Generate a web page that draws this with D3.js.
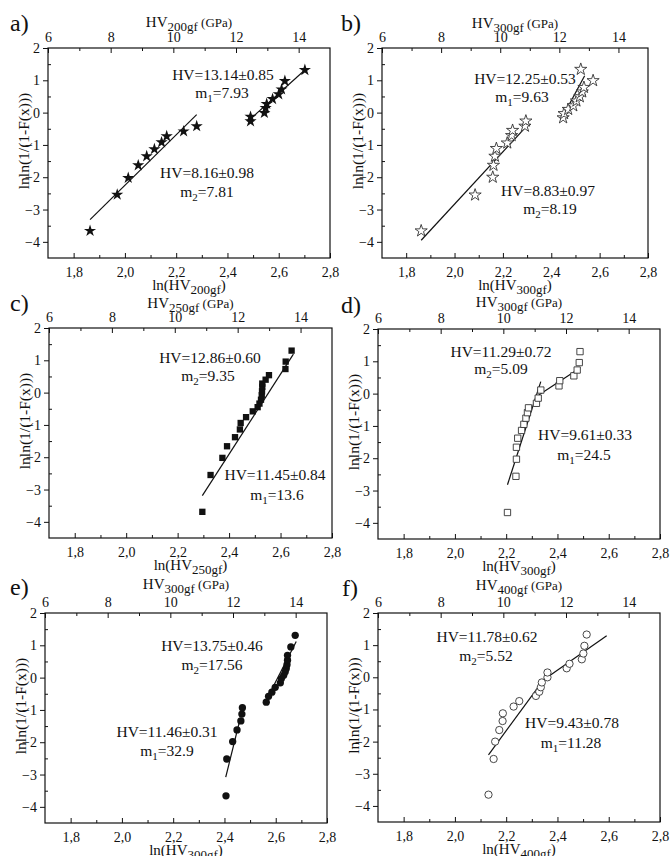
<!DOCTYPE html>
<html><head><meta charset="utf-8">
<script src="https://cdn.jsdelivr.net/npm/d3@7"></script>
<style>body{margin:0;background:#fff}</style>
</head><body>
<svg id="chart" width="670" height="856"></svg>
<script>
// ---------- shared axis data ----------
const xTicks = [1.8, 2.0, 2.2, 2.4, 2.6, 2.8];
const xTickLabels = ["1,8", "2,0", "2,2", "2,4", "2,6", "2,8"];
const xMinor = [1.9, 2.1, 2.3, 2.5, 2.7];
const yTicks = [-4, -3, -2, -1, 0, 1, 2];
const yMinor = [-3.5, -2.5, -1.5, -0.5, 0.5, 1.5];
const topTicks = [6, 8, 10, 12, 14];
const topMinor = [7, 9, 11, 13];
const yTitle = "lnln(1/(1-F(x)))";

// ---------- panel a (filled stars, 200gf) ----------
const a_x = [1.864,1.970,2.013,2.052,2.085,2.115,2.143,2.163,2.229,2.280, 2.490,2.490,2.544,2.549,2.553,2.576,2.600,2.611,2.624,2.702];
const a_y = [-3.66,-2.54,-2.02,-1.63,-1.35,-1.13,-0.92,-0.73,-0.58,-0.42, -0.27,-0.13,-0.01,0.14,0.27,0.42,0.57,0.72,0.98,1.32];
const a_fits = [[[1.864,-3.31],[2.280,-0.06]], [[2.488,-0.21],[2.702,1.32]]];
const a_notes = [["HV=13.14±0.85","1","7.93"], ["HV=8.16±0.98","2","7.81"]];

// ---------- panel b (open stars, 300gf) ----------
const b_x = [1.862,2.085,2.158,2.161,2.167,2.173,2.218,2.236,2.240,2.291,2.295, 2.449,2.453,2.470,2.491,2.504,2.518,2.528,2.535,2.522,2.573];
const b_y = [-3.66,-2.55,-2.00,-1.63,-1.35,-1.11,-0.94,-0.71,-0.55,-0.42,-0.26, -0.16,-0.03,0.10,0.21,0.36,0.49,0.64,0.78,1.34,0.99];
const b_fits = [[[1.862,-3.95],[2.298,-0.42]], [[2.449,-0.10],[2.538,1.14]]];
const b_notes = [["HV=12.25±0.53","1","9.63"], ["HV=8.83±0.97","2","8.19"]];

// ---------- panel c (filled squares, 250gf) ----------
const c_x = [2.296,2.328,2.374,2.392,2.423,2.442,2.445,2.466,2.492,2.511,2.518,2.524,2.527,2.528,2.529,2.529,2.542,2.555,2.619,2.620,2.643];
const c_y = [-3.69,-2.55,-2.02,-1.66,-1.38,-1.14,-0.94,-0.76,-0.58,-0.45,-0.34,-0.22,-0.08,0.04,0.18,0.28,0.40,0.54,0.73,0.96,1.30];
const c_fits = [[[2.296,-3.19],[2.650,1.19]]];
const c_notes = [["HV=12.86±0.60","2","9.35"], ["HV=11.45±0.84","1","13.6"]];

// ---------- panel d (open squares, 300gf) ----------
const d_x = [2.205,2.238,2.240,2.240,2.245,2.260,2.269,2.277,2.283,2.287,2.318,2.325,2.335,2.406,2.409,2.464,2.477,2.485,2.488];
const d_y = [-3.68,-2.56,-2.03,-1.66,-1.38,-1.14,-0.95,-0.76,-0.59,-0.44,-0.30,-0.14,0.11,0.24,0.40,0.55,0.73,0.96,1.30];
const d_fits = [[[2.205,-2.82],[2.335,0.37]], [[2.327,-0.04],[2.488,0.79]]];
const d_notes = [["HV=11.29±0.72","2","5.09"], ["HV=9.61±0.33","1","24.5"]];

// ---------- panel e (filled circles, 300gf) ----------
const e_x = [2.406,2.409,2.432,2.449,2.464,2.468,2.470, 2.563,2.572,2.585,2.598,2.618,2.622,2.631,2.637,2.641,2.644,2.646,2.646,2.659,2.676];
const e_y = [-3.66,-2.52,-1.98,-1.62,-1.34,-1.13,-0.93, -0.76,-0.58,-0.45,-0.30,-0.16,-0.03,0.07,0.18,0.28,0.40,0.54,0.69,0.95,1.31];
const e_fits = [[[2.405,-3.08],[2.462,-1.25]], [[2.560,-0.75],[2.680,1.12]]];
const e_notes = [["HV=13.75±0.46","2","17.56"], ["HV=11.46±0.31","1","32.9"]];

// ---------- panel f (open circles, 400gf) ----------
const f_x = [2.131,2.151,2.157,2.173,2.186,2.187,2.229,2.251,2.316,2.329,2.335,2.339,2.361,2.361,2.436,2.447,2.495,2.501,2.505,2.514];
const f_y = [-3.65,-2.54,-2.00,-1.64,-1.36,-1.12,-0.91,-0.74,-0.58,-0.45,-0.31,-0.16,0.00,0.15,0.28,0.42,0.56,0.74,0.98,1.33];
const f_fits = [[[2.131,-2.41],[2.355,0.02]], [[2.355,-0.03],[2.592,1.29]]];
const f_notes = [["HV=11.78±0.62","2","5.52"], ["HV=9.43±0.78","1","11.28"]];

// ---------- layout (positions/styles only) ----------
const panels = [
  {letter:"a)", load:"200gf", xs:a_x, ys:a_y, fits:a_fits, notes:a_notes, sym:"star", filled:true,
   frame:{x:48,y:48,w:282,h:210}, lp:[10,31], td:-21, np:[[175,32],[174,50],[159,130],[159,149]]},
  {letter:"b)", load:"300gf", xs:b_x, ys:b_y, fits:b_fits, notes:b_notes, sym:"star", filled:false,
   frame:{x:382,y:48,w:266,h:210}, lp:[341,31], td:-20, np:[[143,36],[140,54],[166,148],[168,166]]},
  {letter:"c)", load:"250gf", xs:c_x, ys:c_y, fits:c_fits, notes:c_notes, sym:"square", filled:true,
   frame:{x:49,y:328,w:283,h:210}, lp:[10,311], td:-20, np:[[161,35],[159,53],[226,152],[228,172]]},
  {letter:"d)", load:"300gf", xs:d_x, ys:d_y, fits:d_fits, notes:d_notes, sym:"square", filled:false,
   frame:{x:378,y:329,w:282,h:210}, lp:[341,313], td:-22, np:[[123,28],[123,45],[207,111],[206,131]]},
  {letter:"e)", load:"300gf", xs:e_x, ys:e_y, fits:e_fits, notes:e_notes, sym:"circle", filled:true,
   frame:{x:45,y:613,w:282,h:210}, lp:[10,595], td:-24, np:[[167,38],[167,57],[122,124],[122,143]]},
  {letter:"f)", load:"400gf", xs:f_x, ys:f_y, fits:f_fits, notes:f_notes, sym:"circle", filled:false,
   frame:{x:378,y:613,w:282,h:209}, lp:[342,596], td:-23, np:[[109,29],[108,48],[194,115],[193,135]]}
];

const FONT = "'Liberation Serif','Times New Roman',Times,serif";
const svg = d3.select("#chart").style("font-family", FONT);
svg.append("rect").attr("width",670).attr("height",856).attr("fill","#fff");

const symTypes = {star:d3.symbolStar, square:d3.symbolSquare, circle:d3.symbolCircle};
const symSizes = {star:46, square:40, circle:42};

function styleAxis(g, fs){
  g.select(".domain").remove();
  g.selectAll(".tick line").attr("stroke","#111").attr("stroke-width",1);
  g.selectAll(".tick text").attr("font-family",FONT).attr("font-size",fs).attr("fill","#111");
}

panels.forEach(p => {
  const L = p.frame;
  const x = d3.scaleLinear().domain([1.7, 2.8]).range([L.x, L.x + L.w]);
  const y = d3.scaleLinear().domain([-4.5, 2]).range([L.y + L.h, L.y]);
  const xt = d3.scaleLinear().domain([6, 15]).range([L.x, L.x + L.w]);
  const g = svg.append("g");

  // bottom axis (inward ticks)
  g.append("g").attr("transform",`translate(0,${L.y+L.h})`)
    .call(d3.axisBottom(x).tickValues(xTicks).tickFormat((d,i)=>xTickLabels[i]).tickSizeInner(-5).tickSizeOuter(0).tickPadding(9))
    .call(s=>styleAxis(s,14));
  g.append("g").attr("transform",`translate(0,${L.y+L.h})`)
    .call(d3.axisBottom(x).tickValues(xMinor).tickFormat("").tickSizeInner(-3).tickSizeOuter(0))
    .call(s=>styleAxis(s,14));
  // left axis (major outward, minor inward)
  g.append("g").attr("transform",`translate(${L.x},0)`)
    .call(d3.axisLeft(y).tickValues(yTicks).tickFormat(d3.format("d")).tickSizeInner(5).tickSizeOuter(0).tickPadding(3))
    .call(s=>styleAxis(s,14));
  g.append("g").attr("transform",`translate(${L.x},0)`)
    .call(d3.axisLeft(y).tickValues(yMinor).tickFormat("").tickSizeInner(-3).tickSizeOuter(0))
    .call(s=>styleAxis(s,14));
  // top axis (inward ticks)
  g.append("g").attr("transform",`translate(0,${L.y})`)
    .call(d3.axisTop(xt).tickValues(topTicks).tickFormat(d3.format("d")).tickSizeInner(-5).tickSizeOuter(0).tickPadding(6))
    .call(s=>styleAxis(s,14));
  g.append("g").attr("transform",`translate(0,${L.y})`)
    .call(d3.axisTop(xt).tickValues(topMinor).tickFormat("").tickSizeInner(-3).tickSizeOuter(0))
    .call(s=>styleAxis(s,14));

  // frame
  g.append("rect").attr("x",L.x).attr("y",L.y).attr("width",L.w).attr("height",L.h)
    .attr("fill","none").attr("stroke","#111").attr("stroke-width",1.2);

  // fit lines
  const line = d3.line().x(d=>x(d[0])).y(d=>y(d[1]));
  p.fits.forEach(f => g.append("path").attr("d",line(f)).attr("fill","none").attr("stroke","#111").attr("stroke-width",1.2));

  // markers
  const sym = d3.symbol().type(symTypes[p.sym]).size(symSizes[p.sym]);
  g.selectAll(null).data(p.xs.map((v,i)=>[v,p.ys[i]])).enter().append("path")
    .attr("d", sym)
    .attr("transform", d=>`translate(${x(d[0])},${y(d[1])})`)
    .attr("fill", p.filled ? "#111" : "#fff")
    .attr("stroke", p.filled ? "none" : "#333")
    .attr("stroke-width", 0.9);

  // annotations
  p.notes.forEach((n,k) => {
    const a = p.np[2*k], b = p.np[2*k+1];
    g.append("text").attr("x",L.x+a[0]).attr("y",L.y+a[1]).attr("text-anchor","middle")
      .attr("font-size",15.5).attr("fill","#111").text(n[0]);
    const t = g.append("text").attr("x",L.x+b[0]).attr("y",L.y+b[1]).attr("text-anchor","middle")
      .attr("font-size",15.5).attr("fill","#111");
    t.append("tspan").text("m");
    t.append("tspan").attr("font-size",11).attr("dy",4).text(n[1]);
    t.append("tspan").attr("dy",-4).text("=" + n[2]);
  });

  // top title
  const tt = g.append("text").attr("x",L.x+L.w/2).attr("y",L.y+p.td).attr("text-anchor","middle")
    .attr("font-size",15).attr("fill","#111");
  tt.append("tspan").text("HV");
  tt.append("tspan").attr("font-size",13).attr("dy",4).text(p.load);
  tt.append("tspan").attr("font-size",13).attr("dy",-4).text(" (GPa)");

  // bottom title
  const bt = g.append("text").attr("x",L.x+L.w/2).attr("y",L.y+L.h+32).attr("text-anchor","middle")
    .attr("font-size",15).attr("fill","#111");
  bt.append("tspan").text("ln(HV");
  bt.append("tspan").attr("font-size",13).attr("dy",4).text(p.load);
  bt.append("tspan").attr("dy",-4).text(")");

  // y title
  g.append("text").attr("transform",`translate(${L.x-19},${L.y+L.h/2-12}) rotate(-90)`)
    .attr("text-anchor","middle").attr("font-size",15.5).attr("fill","#111").text(yTitle);

  // panel letter
  g.append("text").attr("x",p.lp[0]).attr("y",p.lp[1]).attr("font-size",24).attr("fill","#111").text(p.letter);
});
</script>
</body></html>
